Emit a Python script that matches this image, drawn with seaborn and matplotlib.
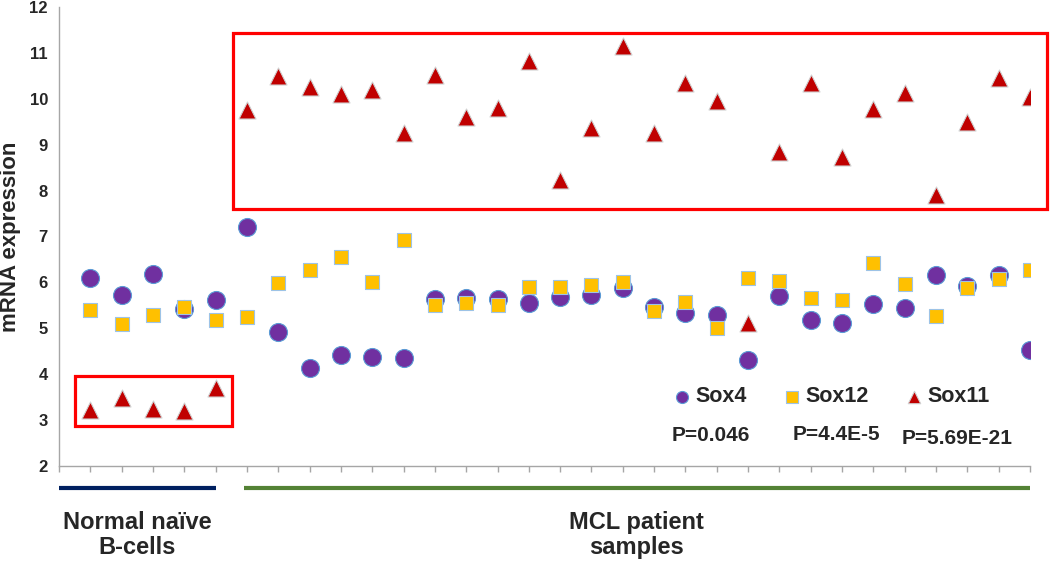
import numpy as np
import pandas as pd
import matplotlib
matplotlib.use('Agg')
import matplotlib.pyplot as plt
from matplotlib.patches import Rectangle
import seaborn as sns

# ── Data ──────────────────────────────────────────────────────
sample_idx = list(range(1, 32))          # 5 normal + 26 MCL samples
n_normal = 5

sox4 = [6.09, 5.73, 6.19, 5.42, 5.61,
        7.21, 4.91, 4.14, 4.41, 4.37, 4.35, 5.63, 5.65, 5.64, 5.56,
        5.68, 5.73, 5.88, 5.47, 5.33, 5.29, 4.31, 5.71, 5.18, 5.12,
        5.53, 5.44, 6.17, 5.92, 6.16, 4.53]
sox12 = [5.39, 5.09, 5.30, 5.47, 5.17,
         5.25, 5.98, 6.26, 6.56, 6.01, 6.93, 5.51, 5.56, 5.50, 5.90,
         5.90, 5.94, 6.01, 5.38, 5.58, 5.01, 6.09, 6.02, 5.65, 5.61,
         6.42, 5.96, 5.27, 5.88, 6.07, 6.27]
sox11 = [3.23, 3.49, 3.25, 3.20, 3.71,
         9.76, 10.50, 10.26, 10.10, 10.19, 9.25, 10.52, 9.60, 9.81, 10.83,
         8.24, 9.37, 11.14, 9.25, 10.35, 9.95, 5.11, 8.85, 10.35, 8.74,
         9.78, 10.12, 7.90, 9.50, 10.45, 10.05]

genes = ['Sox4', 'Sox12', 'Sox11']
p_values = ['P=0.046', 'P=4.4E-5', 'P=5.69E-21']
group_names = ['Normal naïve\nB-cells', 'MCL patient\nsamples']

df = pd.DataFrame({'sample': sample_idx, 'Sox4': sox4,
                   'Sox12': sox12, 'Sox11': sox11})

# ── Style ─────────────────────────────────────────────────────
sns.set_style('white')
plt.rcParams['font.family'] = ['Liberation Sans', 'DejaVu Sans']
plt.rcParams['font.weight'] = 'bold'

fig = plt.figure(figsize=(10.5, 5.62), dpi=100)
ax = fig.add_axes([59 / 1050, 96 / 562, 971 / 1050, 459 / 562])

styles = {
    'Sox4':  dict(marker='o', s=168, color='#7030A0', edgecolor='#5B9BD5'),
    'Sox12': dict(marker='s', s=105, color='#FFC000', edgecolor='#9DC3E6'),
    'Sox11': dict(marker='^', s=150, color='#C00000', edgecolor='#D0D0D0'),
}
for g in genes:
    sns.scatterplot(data=df, x='sample', y=g, ax=ax, label=g,
                    linewidth=0.8, zorder=3, **styles[g])

# ── Axes ──────────────────────────────────────────────────────
ax.set_xlim(0, 31)
ax.set_ylim(2, 12)
ax.set_yticks(range(2, 13))
ax.set_xticks(range(0, 32))
ax.set_xticklabels([])
ax.set_xlabel('')
ax.set_ylabel('mRNA expression', fontsize=16, fontweight='bold')
ax.yaxis.set_label_coords(-0.039, 0.5)
for side in ['top', 'right']:
    ax.spines[side].set_visible(False)
for side in ['left', 'bottom']:
    ax.spines[side].set_color('#A6A6A6')
    ax.spines[side].set_linewidth(1.0)
ax.tick_params(axis='both', direction='out', length=4, color='#A6A6A6',
               width=1.0)
ax.tick_params(axis='y', pad=4)
ax.tick_params(axis='x', bottom=True)
for lab in ax.get_yticklabels():
    lab.set_fontweight('bold')
    lab.set_fontsize(12)

# ── Red boxes around Sox11 groups ─────────────────────────────
ax.add_patch(Rectangle((5.55, 7.61), 31.54 - 5.55, 11.43 - 7.61,
                       fill=False, edgecolor='#FF0000', linewidth=2.3,
                       clip_on=False, zorder=4))
ax.add_patch(Rectangle((0.51, 2.87), 5.53 - 0.51, 3.96 - 2.87,
                       fill=False, edgecolor='#FF0000', linewidth=2.3,
                       clip_on=False, zorder=4))

# ── Legend + p-values ─────────────────────────────────────────
handles, labels = ax.get_legend_handles_labels()
leg = ax.legend(handles, labels,
                ncol=3, frameon=False, loc='center left',
                bbox_to_anchor=(664 / 1050, 1 - 397 / 562),
                bbox_transform=fig.transFigure,
                handlelength=0.7, handletextpad=0.25,
                columnspacing=1.77, borderpad=0,
                prop={'size': 15.5, 'weight': 'bold'})
for h, sz in zip(leg.legend_handles, [75, 70, 80]):
    h.set_sizes([sz])

for x, y, txt in zip([20.82, 24.81, 28.67], [2.66, 2.68, 2.60], p_values):
    ax.text(x, y, txt, ha='center', va='center', fontsize=15,
            fontweight='bold')

# ── Group bars and labels under the axis ─────────────────────
trans = ax.get_xaxis_transform()
ax.plot([0, n_normal], [-0.048, -0.048], color='#002060', linewidth=3,
        transform=trans, clip_on=False, solid_capstyle='butt')
ax.plot([n_normal + 0.9, 31], [-0.048, -0.048], color='#548235',
        linewidth=3, transform=trans, clip_on=False, solid_capstyle='butt')
ax.text(2.5, -0.15, group_names[0], transform=trans, ha='center',
        va='center', fontsize=17, fontweight='bold', linespacing=1.1)
ax.text(18.45, -0.15, group_names[1], transform=trans, ha='center',
        va='center', fontsize=17, fontweight='bold', linespacing=1.1)

fig.savefig('out.png', dpi=100)
